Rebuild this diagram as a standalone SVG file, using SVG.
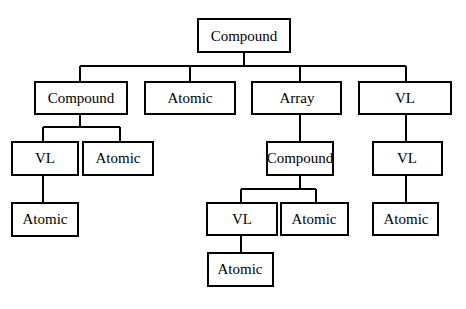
<svg xmlns="http://www.w3.org/2000/svg" width="466" height="309" viewBox="0 0 466 309">
<style>
rect{fill:#fff;stroke:#000;stroke-width:2}
text{font-family:"Liberation Serif","Times New Roman",serif;font-size:15px;fill:#000;text-anchor:middle;dominant-baseline:central}
.c path{fill:none;stroke:#000;stroke-width:2}
</style>
<rect x="0" y="0" width="466" height="309" style="stroke:none"/>
<g class="c" id="connectors">
<path d="M244 52V66M80 66H406M80 66V82M190 66V82M300 66V82M406 66V82"/>
<path d="M80 114V127M43 127H120M43 127V142M120 127V142"/>
<path d="M43 175V203"/>
<path d="M300 114V142M300 175V189M241 189H316M241 189V203M316 189V203M241 235V253"/>
<path d="M406 114V142M406 175V203"/>
</g>
<g id="n1"><rect x="198" y="19" width="92" height="33"/><text x="244" y="36">Compound</text></g>
<g id="n2"><rect x="35" y="82" width="92" height="32"/><text x="81" y="98">Compound</text></g>
<g id="n3"><rect x="145" y="82" width="90" height="32"/><text x="190" y="98">Atomic</text></g>
<g id="n4"><rect x="252" y="82" width="89" height="32"/><text x="297" y="98">Array</text></g>
<g id="n5"><rect x="359" y="82" width="92" height="32"/><text x="405" y="98">VL</text></g>
<g id="n6"><rect x="12" y="142" width="66" height="33"/><text x="45" y="158">VL</text></g>
<g id="n7"><rect x="83" y="142" width="70" height="33"/><text x="118" y="158">Atomic</text></g>
<g id="n8"><rect x="267" y="142" width="66" height="33"/><text x="300" y="158">Compound</text></g>
<g id="n9"><rect x="373" y="142" width="69" height="33"/><text x="407" y="158">VL</text></g>
<g id="n10"><rect x="12" y="203" width="66" height="33"/><text x="45" y="219">Atomic</text></g>
<g id="n11"><rect x="207" y="203" width="70" height="32"/><text x="242" y="219">VL</text></g>
<g id="n12"><rect x="281" y="203" width="67" height="32"/><text x="314" y="219">Atomic</text></g>
<g id="n13"><rect x="373" y="203" width="65" height="32"/><text x="406" y="219">Atomic</text></g>
<g id="n14"><rect x="208" y="253" width="65" height="33"/><text x="240" y="269">Atomic</text></g>
</svg>
